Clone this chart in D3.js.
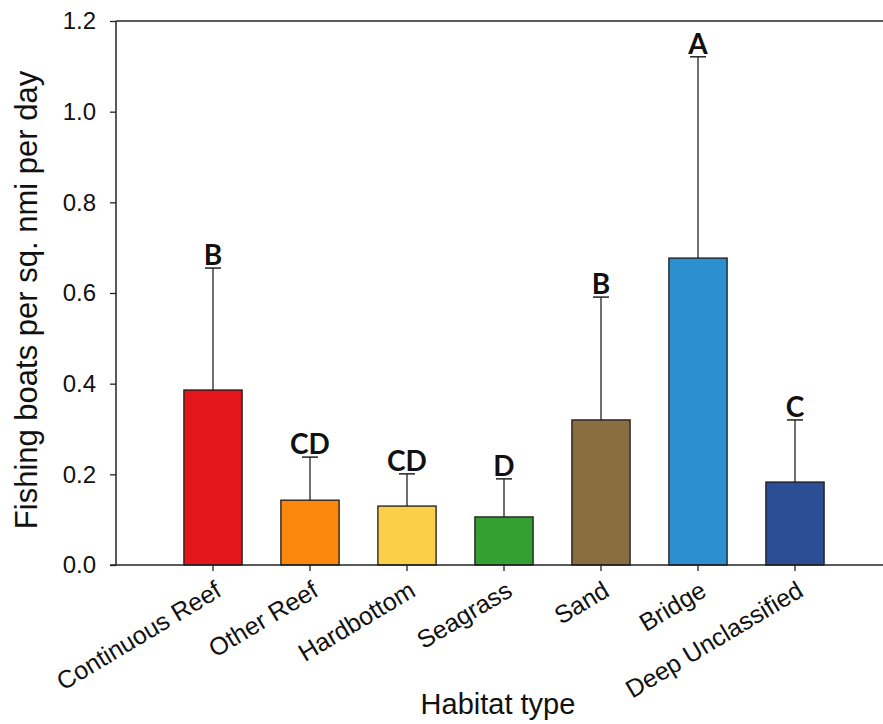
<!DOCTYPE html>
<html>
<head>
<meta charset="utf-8">
<script src="https://cdn.jsdelivr.net/npm/d3@7"></script>
<style>
  body { margin: 0; background: #fff; }
  svg { display: block; }
  text { font-family: "Liberation Sans", Arial, sans-serif; fill: #111; }
</style>
</head>
<body>
<div id="chart"></div>
<script>
const habitats = ["Continuous Reef", "Other Reef", "Hardbottom", "Seagrass", "Sand", "Bridge", "Deep Unclassified"];
const means = [0.386, 0.143, 0.130, 0.106, 0.320, 0.677, 0.183];
const upperErr = [0.655, 0.238, 0.201, 0.190, 0.591, 1.121, 0.320];
const groups = ["B", "CD", "CD", "D", "B", "A", "C"];
const colors = ["#e3161b", "#fb880c", "#fccf48", "#35a032", "#8b6d42", "#2b8fd0", "#2c4e94"];
const yTicks = [0, 0.2, 0.4, 0.6, 0.8, 1.0, 1.2];

const width = 883, height = 724;
const mLeft = 116, mTop = 21, mBottom = 565;

let svg = d3.select("#chart").append("svg")
  .attr("width", width)
  .attr("height", height);

let y = d3.scaleLinear().domain([0, 1.2]).range([mBottom, mTop]);

// slot 0 sits on the y axis, habitats take slots 1..7
let step = 97;
let x = d3.scaleBand()
  .domain(habitats)
  .range([mLeft + step / 2, mLeft + step / 2 + step * habitats.length])
  .paddingInner(0.4)
  .paddingOuter(0.2);

let rows = habitats.map((h, i) => ({ h: h, v: means[i], e: upperErr[i], g: groups[i], c: colors[i] }));

// error bars (upper only)
let err = svg.append("g").selectAll("g")
  .data(rows)
  .enter().append("g");

err.append("line")
  .attr("x1", d => x(d.h) + x.bandwidth() / 2)
  .attr("x2", d => x(d.h) + x.bandwidth() / 2)
  .attr("y1", d => y(d.v))
  .attr("y2", d => y(d.e))
  .attr("stroke", "#222")
  .attr("stroke-width", 1.3);

err.append("line")
  .attr("x1", d => x(d.h) + x.bandwidth() / 2 - 8)
  .attr("x2", d => x(d.h) + x.bandwidth() / 2 + 8)
  .attr("y1", d => y(d.e))
  .attr("y2", d => y(d.e))
  .attr("stroke", "#222")
  .attr("stroke-width", 1.5);

svg.append("g").selectAll("rect")
  .data(rows)
  .enter().append("rect")
  .attr("x", d => x(d.h))
  .attr("width", x.bandwidth())
  .attr("y", d => y(d.v))
  .attr("height", d => y(0) - y(d.v))
  .attr("fill", d => d.c)
  .attr("stroke", "#1a1a1a")
  .attr("stroke-width", 1.3);

// significance letters
svg.append("g").selectAll("text")
  .data(rows)
  .enter().append("text")
  .attr("x", d => x(d.h) + x.bandwidth() / 2)
  .attr("y", d => y(d.e) - 3)
  .attr("text-anchor", "middle")
  .style("font-family", "Lato, 'Open Sans', sans-serif")
  .style("font-weight", "700")
  .style("font-size", "28px")
  .text(d => d.g);

// y axis
let yAxis = svg.append("g")
  .attr("transform", "translate(" + mLeft + ",0)")
  .call(d3.axisLeft(y).tickValues(yTicks).tickFormat(d3.format(".1f")).tickSize(6).tickPadding(14));
yAxis.select(".domain").attr("d", "M0," + mBottom + "V" + mTop).attr("stroke", "#222").attr("stroke-width", 1.5);
yAxis.selectAll(".tick line").attr("stroke", "#222").attr("stroke-width", 1.3);
yAxis.selectAll(".tick text")
  .style("font-family", "'Liberation Sans', Arial, sans-serif")
  .style("font-size", "24px")
  .attr("fill", "#222");

// x axis
let xAxis = svg.append("g")
  .attr("transform", "translate(0," + mBottom + ")")
  .call(d3.axisBottom(x).tickSize(6).tickSizeOuter(0).tickFormat(""));
xAxis.select(".domain").attr("d", "M" + (mLeft - 6) + ",0H" + width).attr("stroke", "#222").attr("stroke-width", 1.5);
xAxis.selectAll(".tick line").attr("stroke", "#222").attr("stroke-width", 1.3);
xAxis.selectAll(".tick").append("text")
  .attr("transform", "translate(10,30) rotate(-31)")
  .attr("text-anchor", "end")
  .attr("fill", "#222")
  .style("font-family", "'Liberation Sans', Arial, sans-serif")
  .style("font-size", "25px")
  .text(d => d);

// top frame line
svg.append("line")
  .attr("x1", mLeft).attr("x2", width)
  .attr("y1", mTop).attr("y2", mTop)
  .attr("stroke", "#222")
  .attr("stroke-width", 1.5);

// axis titles
svg.append("text")
  .attr("transform", "translate(37,300) rotate(-90)")
  .attr("text-anchor", "middle")
  .style("font-size", "31px")
  .attr("fill", "#222")
  .text("Fishing boats per sq. nmi per day");

svg.append("text")
  .attr("x", 498)
  .attr("y", 714)
  .attr("text-anchor", "middle")
  .style("font-size", "29px")
  .attr("fill", "#222")
  .text("Habitat type");
</script>
</body>
</html>
